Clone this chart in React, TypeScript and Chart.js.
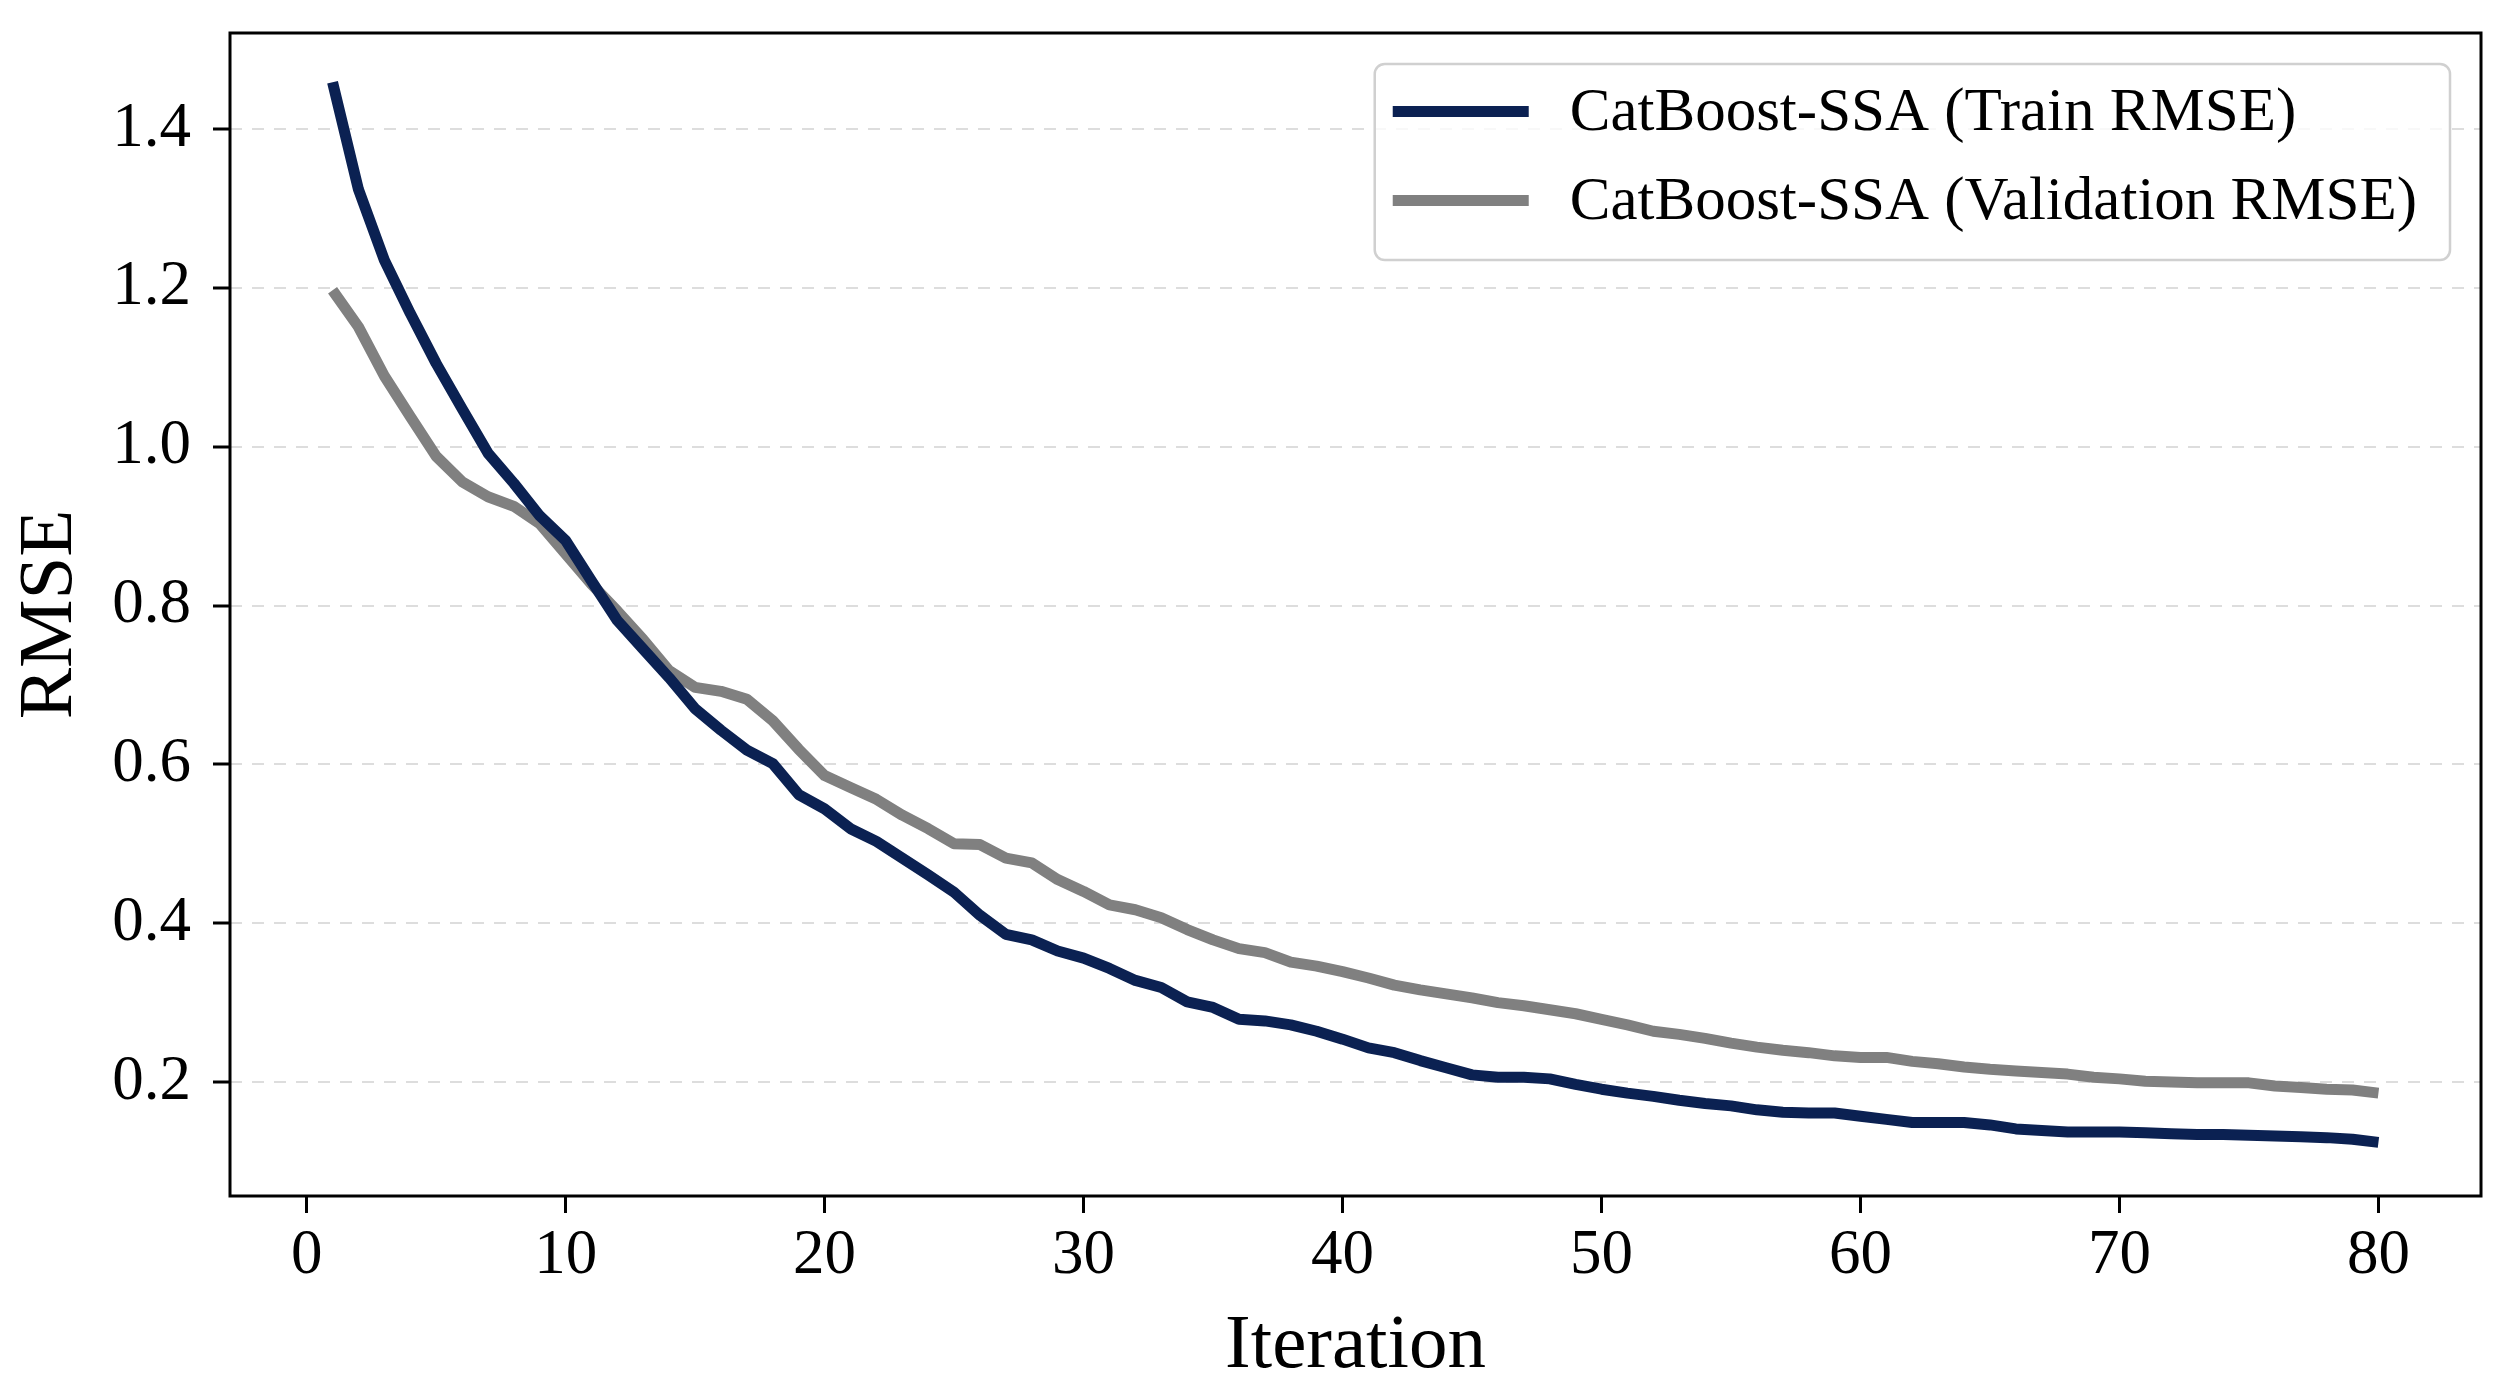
import React, { useEffect, useRef } from 'react';
import { Chart, registerables } from 'chart.js';

Chart.register(...registerables);

const iterations = [
  1, 2, 3, 4, 5, 6, 7, 8, 9, 10, 11, 12, 13, 14, 15, 16, 17, 18, 19, 20,
  21, 22, 23, 24, 25, 26, 27, 28, 29, 30, 31, 32, 33, 34, 35, 36, 37, 38, 39, 40,
  41, 42, 43, 44, 45, 46, 47, 48, 49, 50, 51, 52, 53, 54, 55, 56, 57, 58, 59, 60,
  61, 62, 63, 64, 65, 66, 67, 68, 69, 70, 71, 72, 73, 74, 75, 76, 77, 78, 79, 80,
];

const trainRmse = [
  1.459, 1.324, 1.235, 1.168, 1.105, 1.048, 0.992, 0.954, 0.913, 0.882,
  0.831, 0.781, 0.745, 0.709, 0.670, 0.643, 0.618, 0.601, 0.562, 0.544,
  0.519, 0.503, 0.482, 0.461, 0.439, 0.410, 0.386, 0.379, 0.365, 0.356,
  0.343, 0.328, 0.319, 0.301, 0.294, 0.279, 0.277, 0.272, 0.264, 0.254,
  0.243, 0.237, 0.227, 0.218, 0.209, 0.206, 0.206, 0.204, 0.197, 0.191,
  0.186, 0.182, 0.177, 0.173, 0.170, 0.165, 0.162, 0.161, 0.161, 0.157,
  0.153, 0.149, 0.149, 0.149, 0.146, 0.141, 0.139, 0.137, 0.137, 0.137,
  0.136, 0.135, 0.134, 0.134, 0.133, 0.132, 0.131, 0.130, 0.128, 0.124,
];

const validationRmse = [
  1.197, 1.151, 1.089, 1.038, 0.988, 0.956, 0.937, 0.925, 0.903, 0.865,
  0.827, 0.793, 0.757, 0.718, 0.697, 0.692, 0.682, 0.655, 0.619, 0.586,
  0.571, 0.556, 0.536, 0.519, 0.500, 0.499, 0.482, 0.476, 0.455, 0.440,
  0.423, 0.417, 0.407, 0.392, 0.379, 0.368, 0.363, 0.351, 0.346, 0.339,
  0.331, 0.322, 0.316, 0.311, 0.306, 0.300, 0.296, 0.291, 0.286, 0.279,
  0.272, 0.264, 0.260, 0.255, 0.249, 0.244, 0.240, 0.237, 0.233, 0.231,
  0.231, 0.226, 0.223, 0.219, 0.216, 0.214, 0.212, 0.210, 0.206, 0.204,
  0.201, 0.200, 0.199, 0.199, 0.199, 0.195, 0.193, 0.191, 0.190, 0.186,
];

const xTicks = [0, 10, 20, 30, 40, 50, 60, 70, 80];
const yTicks = [0.2, 0.4, 0.6, 0.8, 1.0, 1.2, 1.4];

const seriesLabels = ['CatBoost-SSA (Train RMSE)', 'CatBoost-SSA (Validation RMSE)'];
const seriesColors = ['#0b2152', '#808080'];

const SERIF = '"Liberation Serif", "Times New Roman", serif';
const LINE_WIDTH = 11;

// black box round the plot area, above the lines like matplotlib spines
const framePlugin = {
  id: 'frame',
  afterDatasetsDraw(chart: Chart) {
    const { ctx, chartArea: a } = chart;
    ctx.save();
    ctx.strokeStyle = '#000';
    ctx.lineWidth = 3;
    ctx.strokeRect(a.left, a.top, a.right - a.left, a.bottom - a.top);
    ctx.restore();
  },
};

// framed legend inside the upper right corner
const boxLegendPlugin = {
  id: 'boxLegend',
  afterDraw(chart: Chart) {
    const { ctx, chartArea: a } = chart;
    const datasets = chart.data.datasets as any[];
    ctx.save();
    ctx.font = `61px ${SERIF}`;
    const textW = Math.max(...datasets.map((d) => ctx.measureText(d.label).width));
    const padL = 18, lineLen = 136, gap = 41, padR = 33;
    const rowH = 89;
    const right = a.right - 31;
    const top = a.top + 31;
    const w = padL + lineLen + gap + textW + padR;
    const h = 196;
    const left = right - w;

    ctx.beginPath();
    ctx.roundRect(left, top, w, h, 10);
    ctx.fillStyle = 'rgba(255,255,255,0.8)';
    ctx.fill();
    ctx.lineWidth = 2.5;
    ctx.strokeStyle = '#d0d0d0';
    ctx.stroke();

    datasets.forEach((d, i) => {
      const y = top + 47.5 + i * rowH;
      ctx.beginPath();
      ctx.moveTo(left + padL, y);
      ctx.lineTo(left + padL + lineLen, y);
      ctx.strokeStyle = d.borderColor;
      ctx.lineWidth = LINE_WIDTH;
      ctx.lineCap = 'butt';
      ctx.stroke();
      ctx.fillStyle = '#000';
      ctx.textAlign = 'left';
      ctx.textBaseline = 'middle';
      ctx.fillText(d.label, left + padL + lineLen + gap, y + 2);
    });
    ctx.restore();
  },
};

function RmseChart() {
  const canvasRef = useRef<HTMLCanvasElement>(null);
  const chartRef = useRef<Chart | null>(null);

  useEffect(() => {
    document.body.style.margin = '0';
    if (!canvasRef.current) return;
    const ctx = canvasRef.current.getContext('2d');
    if (!ctx) return;
    if (chartRef.current) chartRef.current.destroy();

    const series = [trainRmse, validationRmse];

    chartRef.current = new Chart(ctx, {
      type: 'line',
      data: {
        datasets: series.map((values, i) => ({
          label: seriesLabels[i],
          data: iterations.map((it, j) => ({ x: it, y: values[j] })),
          borderColor: seriesColors[i],
          backgroundColor: seriesColors[i],
          borderWidth: LINE_WIDTH,
          borderJoinStyle: 'round' as const,
          borderCapStyle: 'butt' as const,
          pointRadius: 0,
          tension: 0,
          fill: false,
        })),
      },
      options: {
        animation: false,
        responsive: true,
        maintainAspectRatio: false,
        layout: { padding: { top: 33, right: 36, left: 0, bottom: 0 } },
        scales: {
          x: {
            type: 'linear',
            min: -2.96,
            max: 83.96,
            afterBuildTicks: (axis: any) => {
              axis.ticks = xTicks.map((value) => ({ value }));
            },
            afterFit: (axis: any) => {
              axis.height = 197;
              axis.paddingLeft = 0;
              axis.paddingRight = 0;
            },
            ticks: {
              color: '#000',
              font: { family: SERIF, size: 63 },
              padding: 6,
              maxRotation: 0,
              autoSkip: false,
              callback: (v: any) => String(v),
            },
            grid: {
              display: true,
              drawOnChartArea: false,
              drawTicks: true,
              tickLength: 17,
              tickWidth: 3,
              tickColor: '#000',
            },
            border: { display: false },
            title: {
              display: true,
              text: 'Iteration',
              color: '#000',
              font: { family: SERIF, size: 77, lineHeight: 1 },
              padding: { top: 0, bottom: 8 },
            },
          },
          y: {
            type: 'linear',
            min: 0.0565,
            max: 1.521,
            afterBuildTicks: (axis: any) => {
              axis.ticks = yTicks.map((value) => ({ value }));
            },
            afterFit: (axis: any) => {
              axis.width = 230;
              axis.paddingTop = 0;
              axis.paddingBottom = 0;
            },
            ticks: {
              color: '#000',
              font: { family: SERIF, size: 63 },
              padding: 22,
              autoSkip: false,
              callback: (v: any) => Number(v).toFixed(1),
            },
            grid: {
              display: true,
              color: '#dddddd',
              lineWidth: 2,
              drawTicks: true,
              tickLength: 17,
              tickWidth: 3,
              tickColor: '#000',
              tickBorderDash: [],
            },
            border: { display: false, dash: [12, 10] },
            title: {
              display: true,
              text: 'RMSE',
              color: '#000',
              font: { family: SERIF, size: 77, lineHeight: 1 },
              padding: { top: 12, bottom: 0 },
            },
          },
        },
        plugins: {
          legend: { display: false },
          tooltip: { enabled: false },
        },
      },
      plugins: [framePlugin, boxLegendPlugin],
    });

    return () => {
      if (chartRef.current) chartRef.current.destroy();
      chartRef.current = null;
    };
  }, []);

  return (
    <div style={{ position: 'relative', width: '2517px', height: '1393px' }}>
      <canvas ref={canvasRef} />
    </div>
  );
}

export default function App() {
  return <RmseChart />;
}
